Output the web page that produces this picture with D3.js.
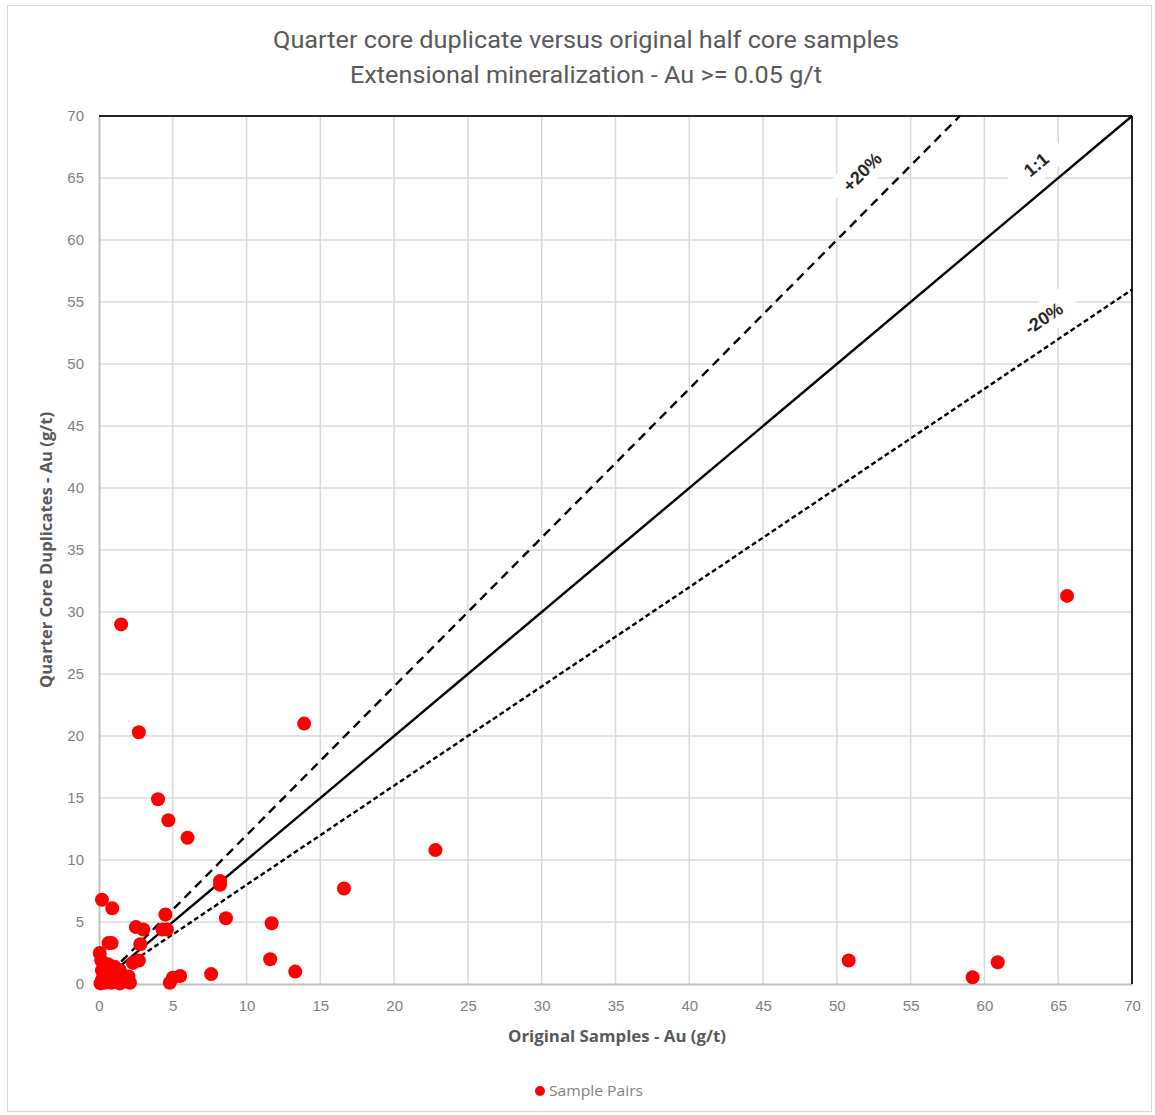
<!DOCTYPE html>
<html>
<head>
<meta charset="utf-8">
<script src="https://cdn.jsdelivr.net/npm/d3@7"></script>
<style>
  html, body { margin: 0; padding: 0; background: #fff; }
  svg { display: block; }
</style>
</head>
<body>
<svg id="chart" width="1155" height="1115"></svg>
<script>
// ---- Data ----
const sampleX = [1.5, 2.7, 4.0, 4.7, 6.0, 13.9, 22.8, 16.6, 8.2, 8.2, 8.6, 11.7, 11.6, 13.3, 7.6, 5.5, 5.0, 4.8,
  50.8, 59.2, 60.9, 65.6, 4.5, 4.3, 4.6, 0.2, 0.9, 2.5, 3.0, 2.8, 0.65, 0.85, 0.05, 2.3, 2.7,
  0.15, 0.6, 1.05, 1.4, 0.2, 0.5, 0.2, 0.6, 1.0, 1.5, 1.75, 0.1, 0.4, 0.85, 1.4, 2.1, 2.0, 0.3];
const sampleY = [29.0, 20.3, 14.9, 13.2, 11.8, 21.0, 10.8, 7.7, 8.3, 8.0, 5.3, 4.9, 2.0, 1.0, 0.8, 0.65, 0.5, 0.1,
  1.9, 0.55, 1.75, 31.3, 5.6, 4.4, 4.4, 6.8, 6.1, 4.6, 4.4, 3.2, 3.3, 3.3, 2.5, 1.7, 1.9,
  1.9, 1.6, 1.4, 1.1, 1.1, 0.8, 0.3, 0.5, 0.6, 0.4, 0.2, 0.05, 0.1, 0.1, 0.05, 0.1, 0.6, 0.6];
const xTicks = [0, 5, 10, 15, 20, 25, 30, 35, 40, 45, 50, 55, 60, 65, 70];
const yTicks = [0, 5, 10, 15, 20, 25, 30, 35, 40, 45, 50, 55, 60, 65, 70];
const refLines = [
  { name: "+20%", factor: 1.2, dash: "9,6", labelX: 51.7, labelY: 65.5 },
  { name: "1:1", factor: 1.0, dash: null, labelX: 63.5, labelY: 66.1 },
  { name: "-20%", factor: 0.8, dash: "5,3", labelX: 64.0, labelY: 53.7 }
];
const lineStartX = 1.5;
const titleLines = ["Quarter core duplicate versus original half core samples",
                    "Extensional mineralization - Au >= 0.05 g/t"];
const xTitle = "Original Samples - Au (g/t)";
const yTitle = "Quarter Core Duplicates - Au (g/t)";
const legendLabel = "Sample Pairs";

(function () {
const svg = d3.select("#chart");
const pLeft = 99, pRight = 1132, pTop = 116, pBottom = 984;
const x = d3.scaleLinear().domain([0, 70]).range([pLeft, pRight]);
const y = d3.scaleLinear().domain([0, 70]).range([pBottom, pTop]);

// outer border
svg.append("rect").attr("x", 7.5).attr("y", 5.5).attr("width", 1144).attr("height", 1106)
  .attr("fill", "#fff").attr("stroke", "#d9d9d9").attr("stroke-width", 1);

// title
const titleY = [48, 83];
const titleLen = [626, 472];
titleLines.forEach((t, i) => {
  svg.append("text").attr("x", 586).attr("y", titleY[i]).attr("text-anchor", "middle")
    .attr("font-family", "'Liberation Sans Narrow', 'Roboto', sans-serif").attr("font-size", 24)
    .attr("fill", "#595959").attr("textLength", titleLen[i]).attr("lengthAdjust", "spacingAndGlyphs")
    .text(t);
});

// gridlines
const grid = svg.append("g");
grid.selectAll("line.v").data(xTicks.filter(d => d > 0 && d < 70)).join("line").attr("class", "v")
  .attr("x1", d => x(d)).attr("x2", d => x(d)).attr("y1", pTop).attr("y2", pBottom)
  .attr("stroke", "#d9d9d9").attr("stroke-width", 1.5);
grid.selectAll("line.h").data(yTicks.filter(d => d > 0 && d < 70)).join("line").attr("class", "h")
  .attr("x1", pLeft).attr("x2", pRight).attr("y1", d => y(d)).attr("y2", d => y(d))
  .attr("stroke", "#d9d9d9").attr("stroke-width", 1.5);

// axes
const xAxis = svg.append("g").attr("transform", `translate(0,${pBottom})`)
  .call(d3.axisBottom(x).tickValues(xTicks).tickSize(0).tickPadding(16));
const yAxis = svg.append("g").attr("transform", `translate(${pLeft},0)`)
  .call(d3.axisLeft(y).tickValues(yTicks).tickSize(0).tickPadding(15));
[xAxis, yAxis].forEach(a => {
  a.select(".domain").attr("stroke", "#bfbfbf").attr("stroke-width", 2);
  a.selectAll("text").attr("font-family", "'Liberation Sans', Arial, sans-serif")
    .attr("font-size", 15).attr("fill", "#7f7f7f");
});
// top and right borders
svg.append("line").attr("x1", pLeft).attr("x2", pRight).attr("y1", pTop).attr("y2", pTop)
  .attr("stroke", "#262626").attr("stroke-width", 2);
svg.append("line").attr("x1", pRight).attr("x2", pRight).attr("y1", pTop).attr("y2", pBottom)
  .attr("stroke", "#262626").attr("stroke-width", 2);

// reference lines
refLines.forEach(r => {
  const xEnd = Math.min(70, 70 / r.factor);
  svg.append("line")
    .attr("x1", x(lineStartX)).attr("y1", y(lineStartX * r.factor))
    .attr("x2", x(xEnd)).attr("y2", y(xEnd * r.factor))
    .attr("stroke", "#000").attr("stroke-width", 2.4)
    .attr("stroke-dasharray", r.dash);
});

// points
svg.append("g").selectAll("circle").data(sampleX.map((d, i) => [d, sampleY[i]])).join("circle")
  .attr("cx", d => x(d[0])).attr("cy", d => y(d[1])).attr("r", 7)
  .attr("fill", "#ff0000");

// reference labels
refLines.forEach(r => {
  const px = x(r.labelX), py = y(r.labelY);
  const angle = -Math.atan(r.factor * (y(0) - y(1)) / (x(1) - x(0))) * 180 / Math.PI;
  const g = svg.append("g").attr("transform", `translate(${px},${py}) rotate(${angle})`);
  const w = r.name.length * 11 + 28;
  g.append("rect").attr("x", -w / 2).attr("y", -16).attr("width", w).attr("height", 32).attr("fill", "#fff");
  g.append("text").attr("text-anchor", "middle").attr("dy", "0.36em")
    .attr("font-family", "'Liberation Sans', Arial, sans-serif").attr("font-size", 18)
    .attr("font-weight", "bold").attr("fill", "#262626").text(r.name);
});

// axis titles
svg.append("text").attr("x", 617).attr("y", 1042).attr("text-anchor", "middle")
  .attr("font-family", "'Open Sans', sans-serif").attr("font-size", 16).attr("font-weight", "bold")
  .attr("fill", "#595959").attr("textLength", 218).attr("lengthAdjust", "spacingAndGlyphs").text(xTitle);
svg.append("text").attr("transform", "translate(52,550) rotate(-90)").attr("text-anchor", "middle")
  .attr("font-family", "'Open Sans', sans-serif").attr("font-size", 16).attr("font-weight", "bold")
  .attr("fill", "#595959").attr("textLength", 276).attr("lengthAdjust", "spacingAndGlyphs").text(yTitle);

// legend
svg.append("circle").attr("cx", 540).attr("cy", 1091).attr("r", 5).attr("fill", "#ff0000");
svg.append("text").attr("x", 549).attr("y", 1096).attr("font-family", "'Open Sans', sans-serif")
  .attr("font-size", 15).attr("fill", "#7f7f7f").attr("textLength", 94).attr("lengthAdjust", "spacingAndGlyphs")
  .text(legendLabel);
})();
</script>
</body>
</html>
